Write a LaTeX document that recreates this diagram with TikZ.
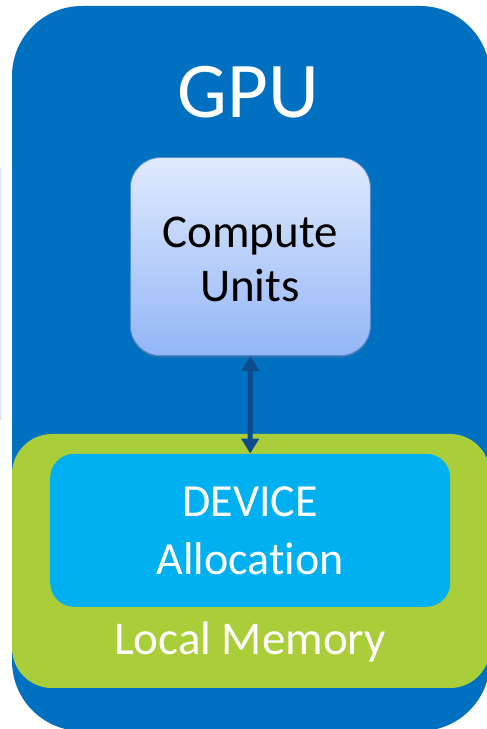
\documentclass[tikz,border=0pt]{standalone}
\usepackage{fontspec}
\setmainfont{Carlito}[Ligatures=NoCommon]
\usetikzlibrary{arrows.meta,shadows}
\definecolor{gpublue}{HTML}{0070C0}
\definecolor{memgreen}{HTML}{A9CE3A}
\definecolor{devcyan}{HTML}{00B0F0}
\definecolor{cutop}{HTML}{E0EAFD}
\definecolor{cubot}{HTML}{93B6F7}
\definecolor{cuedge}{HTML}{5A8BD6}
\definecolor{linkblue}{HTML}{0D4B8A}
\definecolor{ghost}{HTML}{E2EAF6}
\tikzset{
  panel/.style={rounded corners=#1, draw=none},
  label/.style={anchor=base, inner sep=0pt, text=white},
  link/.style={linkblue, line width=5pt,
    {Triangle[width=17pt,length=15pt]}-{Triangle[width=17pt,length=15pt]}},
}
\begin{document}
\begin{tikzpicture}[x=1pt,y=1pt]
  \useasboundingbox (0,0) rectangle (487,729);
  \clip (0,0) rectangle (487,729);
  % edge of a neighbouring panel at the far left
  \draw[ghost, line width=2.5pt] (1,309) -- (1,561);
  % GPU package
  \fill[gpublue, panel=70] (12,-2) rectangle (490,723);
  \node[label, font=\fontsize{79}{90}\selectfont] (gpu) at (248,611) {GPU};
  % local memory
  \fill[memgreen, panel=40] (12,41) rectangle (490,295);
  \node[label, font=\fontsize{47}{56}\selectfont] (mem) at (250,74) {Local Memory};
  % device allocation
  \node[fill=devcyan, panel=24, minimum width=400pt, minimum height=153pt,
        inner sep=0pt, anchor=south west] (dev) at (50,122) {};
  \node[label, font=\fontsize{46}{54}\selectfont] (devA) at (250,212) {DEVICE};
  \node[label, font=\fontsize{46}{56}\selectfont] (devB) at (250,154) {Allocation};
  % compute units
  \node[panel=30, top color=cutop, bottom color=cubot, draw=cuedge, line width=0.8pt,
        drop shadow={shadow xshift=0pt, shadow yshift=-2pt, opacity=0.35},
        minimum width=240pt, minimum height=198pt, inner sep=0pt,
        anchor=south west] (cu) at (130,373) {};
  \node[anchor=base, inner sep=0pt, font=\fontsize{47}{56}\selectfont] (cuA) at (250,481) {Compute};
  \node[anchor=base, inner sep=0pt, font=\fontsize{47}{56}\selectfont] (cuB) at (250,427) {Units};
  % access path between compute units and device memory
  \draw[link] (cu.south) -- (dev.north);
\end{tikzpicture}
\end{document}
